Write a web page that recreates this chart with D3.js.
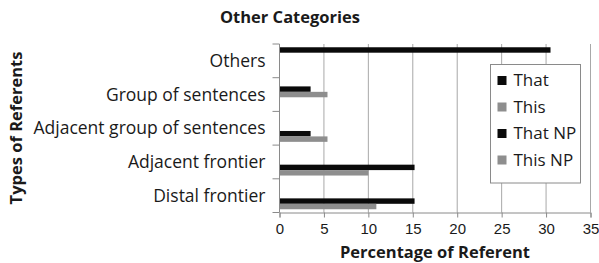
<!doctype html>
<html lang="en">
  <head>
    <meta charset="UTF-8" />
    <title>Other Categories</title>
    <script src="https://unpkg.com/d3@7.9.0/dist/d3.min.js"></script>
    <style>
      body {
        margin: 0;
        background: #fff;
        font-family: 'Open Sans', sans-serif;
        overflow: hidden;
      }
      text {
        fill: #1a1a1a;
      }
      .tick text {
        font-size: 15px;
      }
    </style>
  </head>
  <body>
    <svg width="599" height="263"></svg>

    <script>
      // categories, top to bottom
      const categories = [
        'Others',
        'Group of sentences',
        'Adjacent group of sentences',
        'Adjacent frontier',
        'Distal frontier',
      ];
      const xTicks = [0, 5, 10, 15, 20, 25, 30, 35];

      // bar slots inside each category band, top to bottom
      const slotOrder = ['Other', 'That NP', 'This NP', 'That', 'This'];

      // values per category (same order as categories)
      const thatValues = [0, 0, 3.5, 15.2, 15.2];
      const thisValues = [0, 0, 5.4, 10, 10.9];
      const thatNPValues = [0, 3.5, 0, 0, 0];
      const thisNPValues = [0, 5.4, 0, 0, 0];
      const otherValues = [30.5, 0, 0, 0, 0];

      const legendNames = ['That', 'This', 'That NP', 'This NP'];

      const series = [
        { name: 'That', values: thatValues, color: '#0a0a0a' },
        { name: 'This', values: thisValues, color: '#8e8e8e' },
        { name: 'That NP', values: thatNPValues, color: '#0a0a0a' },
        { name: 'This NP', values: thisNPValues, color: '#8e8e8e' },
        { name: 'Other', values: otherValues, color: '#0a0a0a' },
      ];
      const colorOf = (n) => series.find((s) => s.name === n).color;

      const margin = { top: 44, right: 8.5, bottom: 50.5, left: 279.5 },
        width = 599 - margin.left - margin.right,
        height = 263 - margin.top - margin.bottom;

      const svg = d3.select('svg');
      const g = svg
        .append('g')
        .attr('transform', `translate(${margin.left},${margin.top})`);

      const x = d3.scaleLinear().domain([0, 35]).range([0, width]);
      const y = d3
        .scaleBand()
        .domain(categories)
        .range([0, height])
        .padding(0);
      const slot = d3
        .scaleBand()
        .domain(slotOrder)
        .range([0, y.bandwidth()])
        .paddingInner(0)
        .paddingOuter(0.6);

      // vertical gridlines
      g.append('g')
        .selectAll('line')
        .data(xTicks.slice(1))
        .join('line')
        .attr('x1', (d) => x(d))
        .attr('x2', (d) => x(d))
        .attr('y1', 0)
        .attr('y2', height)
        .attr('stroke', '#a8a8a8')
        .attr('stroke-width', 1);

      // bars
      const rows = [];
      series.forEach((s) => {
        s.values.forEach((v, i) => {
          if (v > 0) rows.push({ s: s.name, cat: categories[i], v, color: s.color });
        });
      });
      g.append('g')
        .selectAll('rect')
        .data(rows)
        .join('rect')
        .attr('x', 0)
        .attr('y', (d) => y(d.cat) + slot(d.s))
        .attr('width', (d) => x(d.v))
        .attr('height', slot.bandwidth())
        .attr('fill', (d) => d.color);

      // x axis
      const xAxis = g
        .append('g')
        .attr('transform', `translate(0,${height})`)
        .call(d3.axisBottom(x).tickValues(xTicks).tickSize(5).tickPadding(6));
      xAxis.select('.domain').attr('stroke', '#8a8a8a');
      xAxis.selectAll('.tick line').attr('stroke', '#8a8a8a');

      // y axis: ticks at band boundaries
      const yAxisG = g.append('g');
      yAxisG
        .append('line')
        .attr('x1', 0)
        .attr('x2', 0)
        .attr('y1', 0)
        .attr('y2', height)
        .attr('stroke', '#8a8a8a');
      yAxisG
        .selectAll('.ytick')
        .data(categories.concat(['end']))
        .join('line')
        .attr('class', 'ytick')
        .attr('x1', -7)
        .attr('x2', 0)
        .attr('y1', (d, i) => i * y.step())
        .attr('y2', (d, i) => i * y.step())
        .attr('stroke', '#8a8a8a');
      yAxisG
        .selectAll('.ylab')
        .data(categories)
        .join('text')
        .attr('class', 'ylab')
        .attr('x', -14)
        .attr('y', (d) => y(d) + y.bandwidth() / 2)
        .attr('dy', '0.35em')
        .attr('text-anchor', 'end')
        .style('font-size', '17.5px')
        .text((d) => d);

      // titles
      svg
        .append('text')
        .attr('x', 290)
        .attr('y', 23)
        .attr('text-anchor', 'middle')
        .style('font-size', '16.5px')
        .style('font-weight', 'bold')
        .text('Other Categories');

      svg
        .append('text')
        .attr('x', margin.left + width / 2)
        .attr('y', 258)
        .attr('text-anchor', 'middle')
        .style('font-size', '16.5px')
        .style('font-weight', 'bold')
        .text('Percentage of Referent');

      svg
        .append('text')
        .attr('transform', `translate(22,128) rotate(-90)`)
        .attr('text-anchor', 'middle')
        .style('font-size', '16.5px')
        .style('font-weight', 'bold')
        .text('Types of Referents');

      // legend
      const legend = svg.append('g').attr('transform', 'translate(490.5,64.5)');
      legend
        .append('rect')
        .attr('width', 90)
        .attr('height', 118.5)
        .attr('fill', '#fff')
        .attr('stroke', '#8a8a8a');
      const item = legend
        .selectAll('.item')
        .data(legendNames)
        .join('g')
        .attr('class', 'item')
        .attr('transform', (d, i) => `translate(7,${16 + i * 26.5})`);
      item
        .append('rect')
        .attr('x', 0)
        .attr('y', -4.5)
        .attr('width', 9)
        .attr('height', 9)
        .attr('fill', (d) => colorOf(d));
      item
        .append('text')
        .attr('x', 16)
        .attr('y', 0)
        .attr('dy', '0.35em')
        .style('font-size', '17px')
        .text((d) => d);
    </script>
  </body>
</html>
